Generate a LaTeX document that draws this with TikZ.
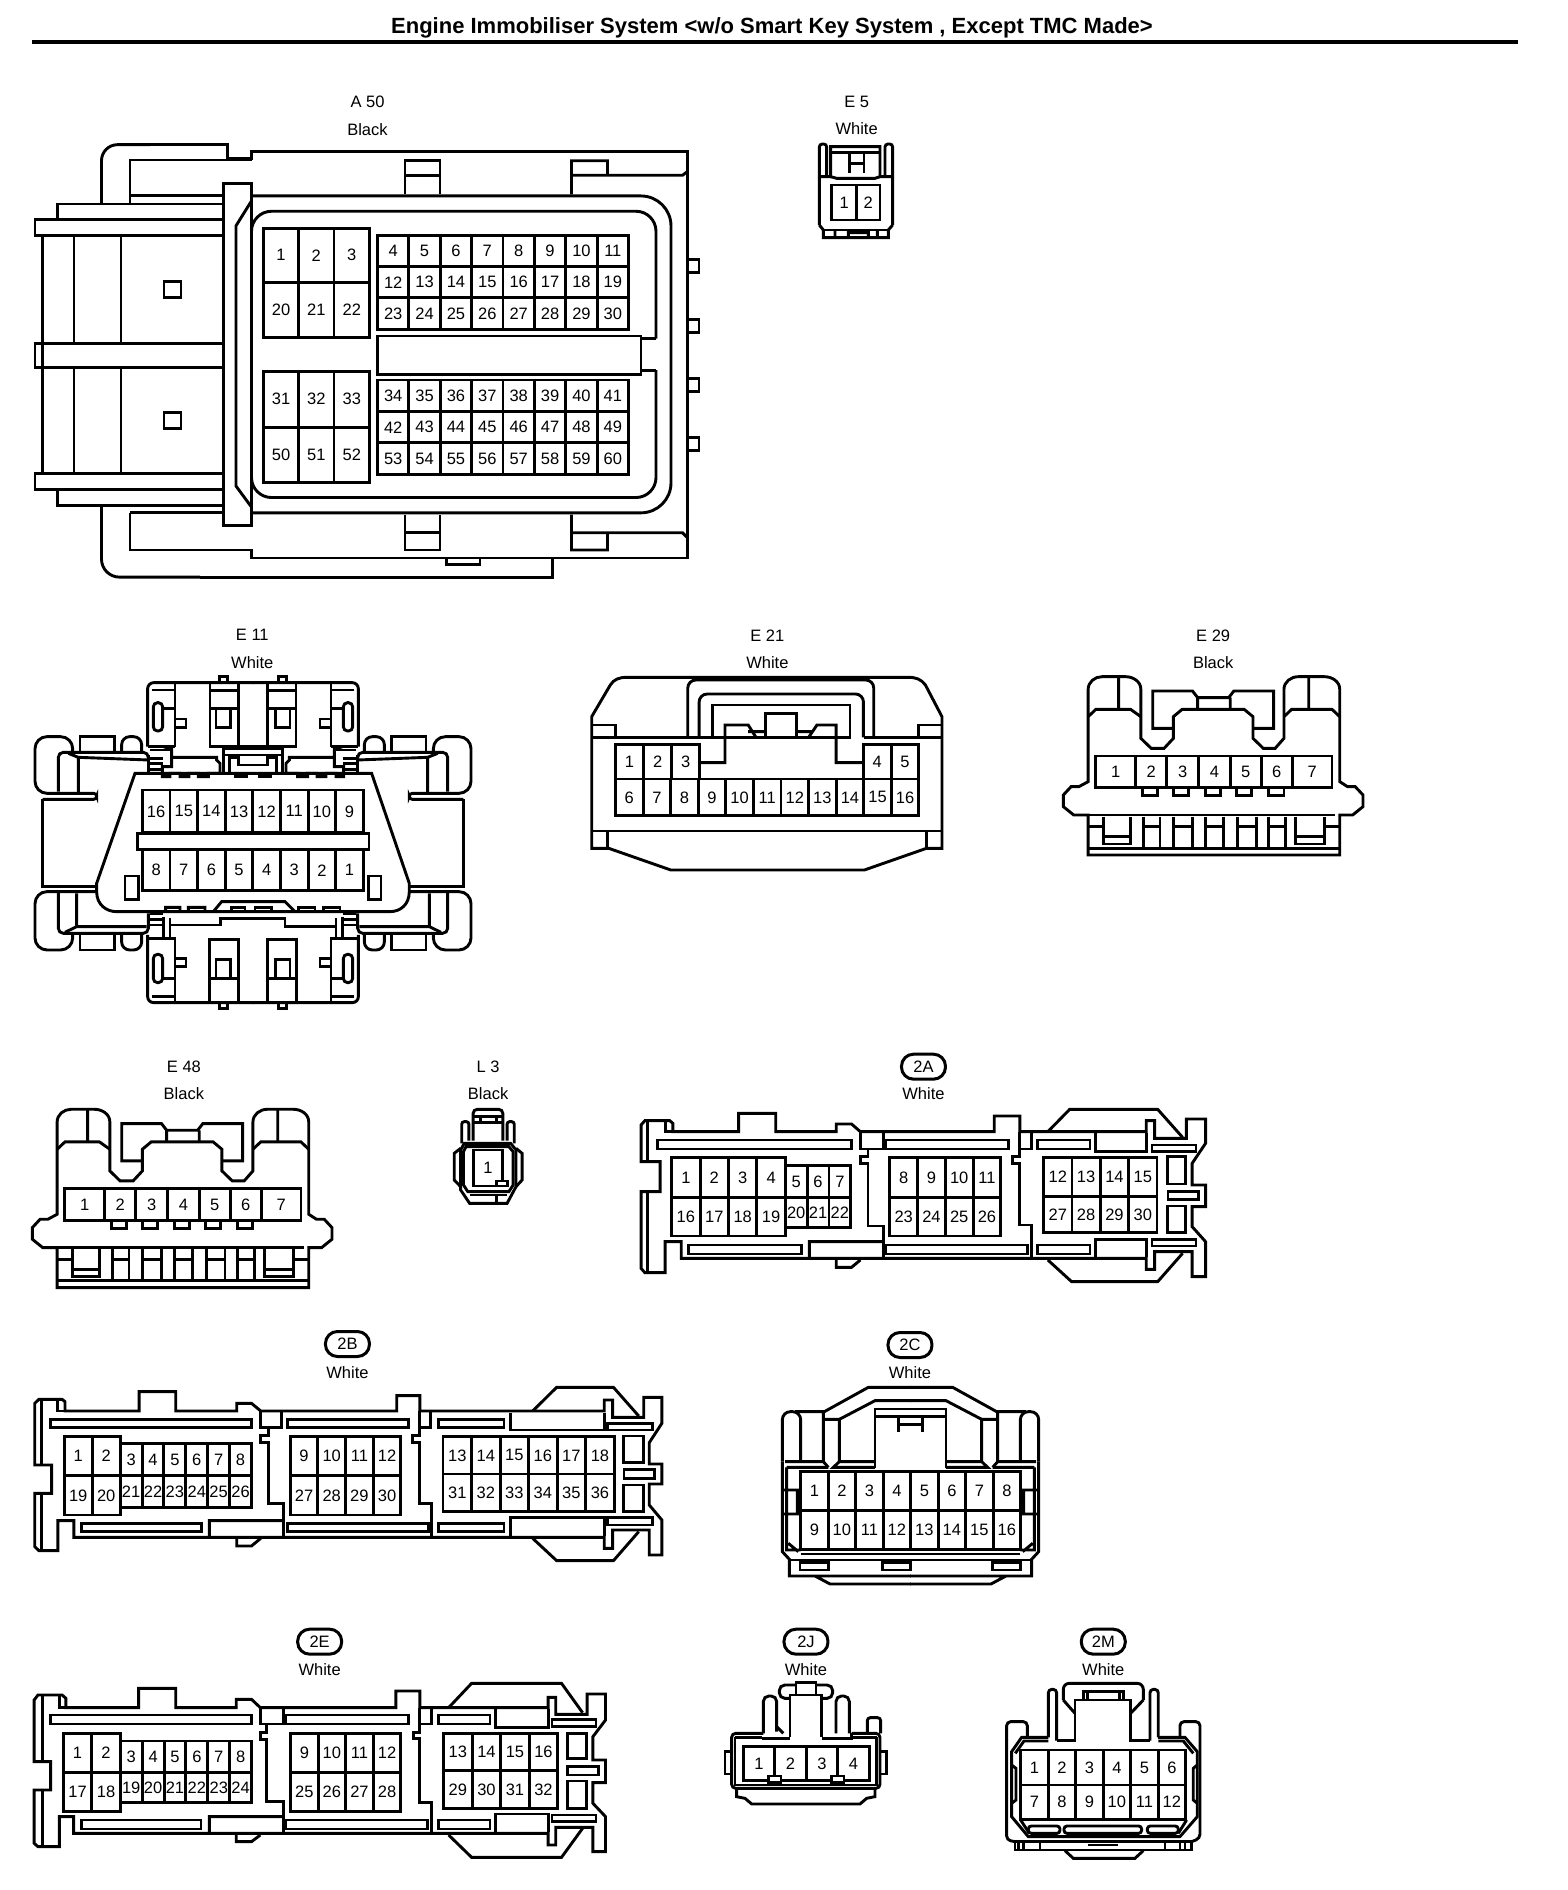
\documentclass[tikz,border=0pt]{standalone}
\usepackage{fontspec}
\setmainfont{Liberation Sans}
\tikzset{
  zo/.style n args={4}{shift={(#1pt,-#2pt)},x=#3pt,y=-#4pt},
  pin/.style={font=\fontsize{16.5}{18}\selectfont,inner sep=0pt},
  captxt/.style={font=\fontsize{16.5}{18}\selectfont,inner sep=0pt},
  tagoval/.style={draw,rounded corners=12pt,minimum width=44pt,minimum height=25pt,inner sep=0pt,line width=3pt,font=\fontsize{16.5}{18}\selectfont},
  titletext/.style={font=\fontsize{22}{24}\selectfont\bfseries,inner sep=0pt},
}
\newcommand{\PinRow}[6]{%
  \foreach \lbl [count=\ci from 0] in {#6} {
    \draw (#2+\ci*#3,#4) rectangle (#2+\ci*#3+#3,#5);
    \node[pin] (#1-\lbl) at (#2+\ci*#3+#3/2,{(#4+#5)/2}) {\lbl};
  }}
\newcommand{\PinRowX}[4]{%
  \foreach \xa/\xb/\lbl in {#4} {
    \draw (\xa,#2) rectangle (\xb,#3);
    \node[pin] (#1-\lbl) at ({(\xa+\xb)/2},{(#2+#3)/2}) {\lbl};
  }}
% half of E11, drawn in the coordinates of its zoom
\newcommand{\ElevenHalf}{%
  \draw[rounded corners=6pt] (443,380)--(443,188)--(761,188);
  \draw (455,210)--(525,210) (525,190)--(525,380) (525,265)--(490,265) (443,380)--(525,380) (450,390)--(515,390);
  \draw[rounded corners=4.2pt] (460,248) rectangle (488,333);
  \draw (525,297)--(558,297)--(558,322)--(525,322);
  \draw (630,190)--(630,380)--(761,380) (715,190)--(715,380) (630,212)--(715,212) (630,265)--(715,265) (648,265)--(648,322)--(692,322)--(692,265);
  \draw (658,185)--(658,170)--(683,170)--(683,185);
  % upper ear
  \draw[rounded corners=12pt] (218,395)--(218,350)--(105,350)--(105,520)--(225,520);
  \draw[rounded corners=3pt] (225,520)--(290,520)--(290,538)--(128,538);
  \draw (128,538)--(128,800)--(288,800);
  \draw (240,395)--(240,350)--(343,350)--(343,395);
  \draw[rounded corners=8pt] (365,395)--(365,350)--(425,350)--(425,395);
  \draw[rounded corners=5pt] (175,515)--(175,397)--(445,397)--(445,418);
  \draw (205,400)--(235,412)--(445,420) (235,412)--(235,518);
  % lower ear
  \draw[rounded corners=12pt] (288,815)--(105,815)--(105,990)--(218,990)--(218,940);
  \draw (240,940)--(240,990)--(343,990)--(343,940);
  \draw[rounded corners=8pt] (365,940)--(365,990)--(425,990)--(425,940);
  \draw[rounded corners=5pt] (175,818)--(175,940)--(445,940)--(445,880);
  \draw (195,937)--(230,920)--(440,920) (230,820)--(230,920);
  % body link, upper side
  \draw (445,405)--(445,460) (450,415)--(490,415) (450,430)--(490,430) (450,448)--(487,448);
  \draw (490,380)--(515,388)--(515,440)--(487,440)--(487,470)--(510,470)--(510,460)--(540,460)--(540,470)--(567,470)--(567,460)--(595,460)--(595,470)--(625,470)--(625,460)--(660,460)--(660,430)--(650,420)--(650,412)--(515,412);
  \draw (670,385)--(670,460) (670,385)--(761,385) (670,405)--(761,405);
  \draw (688,460)--(688,412)--(715,412)--(715,435)--(761,435);
  \draw (705,460)--(705,470)--(740,470)--(740,460)--(761,460);
  % lower block
  \draw[rounded corners=6pt] (443,945)--(443,1148)--(761,1148);
  \draw (445,955)--(525,955)--(525,1145) (525,1075)--(490,1075) (455,1130)--(525,1130);
  \draw[rounded corners=4.2pt] (460,1003) rectangle (488,1088);
  \draw (525,1015)--(558,1015)--(558,1040)--(525,1040);
  \draw (628,1145)--(628,958)--(715,958)--(715,1145) (628,1075)--(715,1075) (648,1075)--(648,1018)--(692,1018)--(692,1075);
  \draw (658,1148)--(658,1165)--(683,1165)--(683,1148);
  \draw (450,880)--(490,880) (450,898)--(490,898) (450,915)--(490,915) (510,895)--(510,955) (490,890)--(490,950);
}
% half of 2C
\newcommand{\TwoCHalf}{%
  \draw[rounded corners=8pt] (37,395)--(37,245)--(92,245)--(92,395);
  \draw (75,245)--(160,245)--(160,395)--(175,412) (45,395)--(160,395);
  \draw (160,268)--(208,268)--(208,395)--(190,412)--(315,412) (208,395)--(315,395);
  \draw (163,245)--(295,172)--(423,172) (208,268)--(315,212)--(423,212);
  \draw (315,415)--(315,237)--(423,237) (315,260)--(423,260) (385,260)--(385,305) (385,283)--(423,283);
  \draw (37,395)--(37,665)--(60,690) (50,412)--(175,412) (50,412)--(50,660)--(92,660) (37,480)--(82,480)--(82,552)--(37,552) (55,640)--(85,665);
  \draw (58,690)--(58,738)--(423,738) (135,738)--(180,762)--(423,762);
  \draw (58,690)--(423,690) (92,672)--(423,672);
}
% the seven-way connector shared by E29 and E48
\newcommand{\SevenWay}[1]{%
  \draw (1003,290)--(1003,208) to[out=90,in=180] (1030,170)--(1075,170) to[out=0,in=90] (1105,208)--(1105,355)--(1125,385)--(1150,385)--(1168,355)--(1168,290)--(1185,268)--(1305,268)--(1322,290)--(1322,355)--(1342,385)--(1365,385)--(1382,355)--(1382,208) to[out=90,in=180] (1410,170)--(1460,170) to[out=0,in=90] (1490,208)--(1490,485)--(1505,500)--(1520,500)--(1535,525)--(1535,560)--(1515,585)--(1490,585)--(1490,705)--(1003,705)--(1003,585)--(975,585)--(955,560)--(955,525)--(970,500)--(985,500)--(1003,485)--cycle;
  \draw (1003,290)--(1018,268)--(1085,268)--(1105,290) (1062,172)--(1062,268) (1382,290)--(1397,268)--(1475,268)--(1490,290) (1430,172)--(1430,268);
  \draw (1168,325)--(1128,325)--(1128,213)--(1205,213)--(1215,233)--(1275,233)--(1285,213)--(1362,213)--(1362,325)--(1322,325) (1215,233)--(1215,268) (1278,233)--(1278,268);
  \foreach \tx in {1108,1168,1230,1290,1352} { \draw (\tx,503)--(\tx,527)--(\tx+30,527)--(\tx+30,503); }
  \draw (975,585)--(1480,585) (1003,685)--(1490,685);
  \draw (1032,590)--(1032,672)--(1085,672)--(1085,590) (1032,650)--(1085,650) (1405,590)--(1405,672)--(1460,672)--(1460,590) (1405,650)--(1460,650);
  \foreach \ta/\tb in {1110/1142,1168/1205,1230/1265,1292/1328,1352/1385} { \draw (\ta,590)--(\ta,685) (\tb,590)--(\tb,685) (\ta,620)--(\tb,620); }
  \draw (1003,620)--(1032,620) (1460,620)--(1490,620);
  \PinRowX{#1}{408}{503}{1018/1095/1,1095/1155/2,1155/1217/3,1217/1278/4,1278/1338/5,1338/1398/6,1398/1475/7}
}
\begin{document}
\begin{tikzpicture}[x=1pt,y=-1pt,line width=2.9pt,line join=miter]
\path[use as bounding box,fill=white] (0,0) rectangle (1568,1890);
\node[titletext] (title) at (772,28) {Engine Immobiliser System <w/o Smart Key System , Except TMC Made>};
\draw[line width=4pt] (32,42)--(1518,42);

% ------------- A50
\begin{scope}[zo={0}{0}{0.5}{0.3827}]
\node[captxt] (a50) at (735,267) {A 50};
\node[captxt] (a50c) at (735,338) {Black};
\draw[rounded corners=16pt] (203,530)--(203,378)--(300,378);
\draw (300,378)--(455,378)--(455,413)--(503,413)--(503,396)--(1375,396)--(1375,1458)--(503,1458)--(503,1437)--(260,1437)--(260,1340);
\draw (503,418)--(260,418)--(260,530) (260,512)--(447,512);
\draw[rounded corners=18pt] (203,1322)--(203,1508)--(400,1508);
\draw (400,1508)--(1105,1508)--(1105,1458);
\draw (893,1458)--(893,1475)--(960,1475)--(960,1458);
\draw (810,508)--(810,420)--(880,420)--(880,508) (810,458)--(880,458);
\draw (1143,508)--(1143,420)--(1215,420)--(1215,458) (1143,458)--(1365,458)--(1375,448);
\draw (810,1345)--(810,1437)--(880,1437)--(880,1345) (810,1392)--(880,1392);
\draw (1143,1345)--(1143,1437)--(1215,1437)--(1215,1392) (1143,1392)--(1365,1392)--(1375,1405);
\draw (115,572)--(115,533)--(447,533) (447,573)--(70,573)--(70,615)--(447,615) (85,615)--(85,1238);
\draw (148,615)--(148,895) (242,615)--(242,895) (148,960)--(148,1238) (242,960)--(242,1238);
\draw (447,897)--(70,897)--(70,960)--(447,960);
\draw (447,1238)--(70,1238)--(70,1280)--(447,1280) (115,1280)--(115,1320)--(447,1320) (260,1340)--(447,1340);
\draw (328,735) rectangle (362,778) (328,1078) rectangle (362,1120);
\draw (447,480) rectangle (503,1373);
\draw[rounded corners=30pt] (503,512)--(1342,512)--(1342,1340)--(503,1340);
\draw (503,525)--(472,590)--(472,1270)--(503,1325);
\draw[rounded corners=20pt] (1312,885)--(1312,552)--(503,552)--(503,1300)--(1312,1300)--(1312,967);
\draw (1283,885)--(1312,885) (1283,967)--(1312,967);
\draw (755,878) rectangle (1282,978);
\foreach \ty in {678,835,988,1143} { \draw (1375,\ty)--(1398,\ty)--(1398,\ty+34)--(1375,\ty+34); }
\PinRowX{a}{596}{738}{527/597/1,597/668/2,668/739/3}
\PinRowX{a}{738}{882}{527/597/20,597/668/21,668/739/22}
\PinRowX{a}{970}{1116}{527/597/31,597/668/32,668/739/33}
\PinRowX{a}{1116}{1260}{527/597/50,597/668/51,668/739/52}
\PinRow{a}{755}{62.75}{616}{697}{4,5,6,7,8,9,10,11}
\PinRow{a}{755}{62.75}{697}{778}{12,13,14,15,16,17,18,19}
\PinRow{a}{755}{62.75}{778}{860}{23,24,25,26,27,28,29,30}
\PinRow{a}{755}{62.75}{993}{1076}{34,35,36,37,38,39,40,41}
\PinRow{a}{755}{62.75}{1076}{1157}{42,43,44,45,46,47,48,49}
\PinRow{a}{755}{62.75}{1157}{1240}{53,54,55,56,57,58,59,60}
\end{scope}

% ------------- E5
\begin{scope}[zo={800}{85}{0.3333}{0.3333}]
\node[captxt] (e5) at (170,50) {E 5};
\node[captxt] (e5c) at (170,130) {White};
\draw[rounded corners=3pt] (58,420)--(58,177)--(80,177)--(80,275);
\draw[rounded corners=3pt] (278,420)--(278,177)--(255,177)--(255,275);
\draw (58,420)--(70,435)--(70,458)--(265,458)--(265,435)--(278,420) (58,275)--(92,275)--(92,185)--(240,185)--(240,275)--(278,275);
\draw (95,203)--(240,203) (148,205)--(148,265) (192,205)--(192,265) (148,235)--(192,235) (70,435)--(265,435);
\draw (92,275)--(110,280)--(225,280)--(240,275) (105,435)--(105,458) (232,435)--(232,458) (145,458)--(145,443)--(205,443)--(205,458);
\PinRowX{e}{300}{405}{95/170/1,170/240/2}
\end{scope}

% ------------- E11
\begin{scope}[zo={0}{620}{0.3333}{0.3333}]
\node[captxt] (e11) at (757,45) {E 11};
\node[captxt] (e11c) at (757,128) {White};
\ElevenHalf
\draw (405,460)--(290,790)--(290,815) .. controls (290,855) and (320,875) .. (350,875)--(1170,875) .. controls (1200,875) and (1228,855) .. (1228,815)--(1228,790)--(1115,460)--cycle;
\draw (412,640) rectangle (1107,688);
\draw (375,768) rectangle (415,838) (1105,768) rectangle (1143,838);
\PinRow{e11}{427}{82.9}{510}{638}{16,15,14,13,12,11,10,9}
\PinRow{e11}{427}{82.9}{690}{812}{8,7,6,5,4,3,2,1}
\draw (510,915)--(662,915)--(662,895)--(855,895)--(855,920)--(1010,920);
\draw (497,875)--(497,862)--(540,862)--(540,875) (565,875)--(565,862)--(615,862)--(615,875) (640,875)--(665,845)--(855,845)--(885,875);
\draw (695,875)--(695,862)--(735,862)--(735,875) (765,875)--(765,862)--(815,862)--(815,875) (895,875)--(895,862)--(945,862)--(945,875) (970,875)--(970,862)--(1020,862)--(1020,875);
\end{scope}
\begin{scope}[zo={506}{620}{-0.3333}{0.3333}]
\ElevenHalf
\end{scope}

% ------------- E21 and E29
\begin{scope}[zo={570}{620}{0.5166}{0.3333}]
\node[captxt] (e21) at (382,47) {E 21};
\node[captxt] (e21c) at (382,128) {White};
\draw (42,685)--(42,290)--(78,195) .. controls (85,178) and (95,172) .. (110,172)--(655,172) .. controls (670,172) and (680,178) .. (688,195)--(720,290)--(720,685)--(690,685)--(570,750)--(195,750)--(75,685)--cycle;
\draw (42,315)--(88,315)--(88,352) (720,315)--(675,315)--(675,352) (42,352)--(275,352) (570,352)--(720,352);
\draw[rounded corners=8pt] (228,352)--(228,180)--(588,180)--(588,352);
\draw[rounded corners=8pt] (250,352)--(250,222)--(568,222)--(568,352);
\draw (275,255) rectangle (542,352);
\draw (378,352)--(378,280)--(438,280)--(438,352);
\draw (250,428)--(300,428)--(300,315)--(345,315)--(360,352) (345,335)--(378,335);
\draw (568,428)--(515,428)--(515,315)--(478,315)--(462,352) (438,335)--(470,335);
\PinRow{e21}{88}{54.4}{373}{477}{1,2,3}
\PinRow{e21}{568}{53.5}{373}{477}{4,5}
\PinRow{e21}{88}{53.4}{477}{587}{6,7,8,9,10,11,12,13,14,15,16}
\draw (42,633)--(720,633) (72,633)--(72,685) (690,633)--(690,685);
\node[captxt] (e29) at (1245,47) {E 29};
\node[captxt] (e29c) at (1245,128) {Black};
\SevenWay{e29}
\end{scope}

% ------------- E48
\begin{scope}[zo={-461}{1052.6}{0.5166}{0.3333}]
\SevenWay{e48}
\end{scope}
\begin{scope}[zo={0}{1050}{0.3571}{0.3333}]
\node[captxt] (e48) at (515,50) {E 48};
\node[captxt] (e48c) at (515,132) {Black};
% ------------- L3
\node[captxt] (l3) at (1367,50) {L 3};
\node[captxt] (l3c) at (1367,132) {Black};
\draw[rounded corners=4pt] (1325,272)--(1325,178)--(1408,178)--(1408,272);
\draw (1325,200)--(1408,200) (1345,200)--(1345,218) (1390,200)--(1390,218) (1325,218)--(1408,218);
\draw[rounded corners=2.5pt] (1313,272)--(1313,215)--(1293,215)--(1293,280);
\draw[rounded corners=2.5pt] (1420,272)--(1420,215)--(1440,215)--(1440,280);
\draw (1300,280)--(1430,280)--(1445,300)--(1445,410)--(1420,460)--(1315,460)--(1290,420)--(1290,300)--cycle;
\draw (1290,295)--(1272,310)--(1272,390)--(1290,410) (1445,295)--(1462,310)--(1462,390)--(1445,410);
\draw (1305,290)--(1425,290)--(1437,305)--(1437,405)--(1425,425)--(1310,425)--(1298,405)--(1298,305)--cycle;
\PinRowX{l3}{300}{408}{1325/1408/1}
\draw[fill=white] (1390,393) rectangle (1422,408);
\draw (1315,435)--(1420,435) (1390,435)--(1390,460);
\end{scope}

% ------------- 2A
\begin{scope}[zo={620}{1050}{0.3827}{0.3333}]
\node[tagoval] (t2a) at (793,50) {2A};
\node[captxt] (t2ac) at (793,132) {White};
\draw (55,335)--(55,225)--(65,212)--(130,212)--(138,220)--(138,245)--(310,245)--(310,190)--(407,190)--(407,245)--(565,245)--(565,222)--(605,222)--(628,245)--(978,245)--(978,198)--(1045,198)--(1045,245)--(1375,245)--(1375,212)--(1397,212)--(1397,265)--(1480,265)--(1480,207)--(1530,207)--(1530,280)--(1495,340)--(1495,405)--(1530,405)--(1530,470)--(1495,470)--(1495,530)--(1530,575)--(1530,680)--(1495,680)--(1495,605)--(1397,605)--(1397,658)--(1375,658)--(1375,625)--(160,625)--(160,575)--(118,575)--(118,668)--(65,668)--(55,655)--(55,425)--(105,425)--(105,335)--cycle;
\draw (1118,245)--(1175,178)--(1405,178)--(1470,262) (1118,630)--(1180,695)--(1405,695)--(1470,610);
\draw (72,215)--(72,335) (72,425)--(72,665) (118,215)--(118,245)--(138,245);
\draw (98,270) rectangle (605,297) (180,585) rectangle (475,612) (695,270) rectangle (1015,297) (695,585) rectangle (1065,612) (1090,270) rectangle (1228,297) (1090,585) rectangle (1228,612) (1390,285) rectangle (1505,305) (1390,568) rectangle (1505,588);
\draw (628,245)--(628,297)--(648,297)--(648,320)--(628,320)--(628,340)--(648,340)--(648,528)--(688,528)--(688,625) (688,245)--(688,297)--(648,297);
\draw (1045,245)--(1045,320)--(1025,320)--(1025,340)--(1045,340)--(1045,525)--(1075,525)--(1075,625) (1045,297)--(1075,297)--(1075,245);
\draw (495,625)--(495,575)--(688,575) (565,625)--(565,652)--(605,652)--(628,630);
\draw (1242,250)--(1242,305)--(1375,305)--(1375,250) (1242,620)--(1242,568)--(1375,568)--(1375,620);
\draw (1430,320) rectangle (1477,402) (1432,425) rectangle (1512,448) (1430,468) rectangle (1477,548);
\PinRow{t2a}{135}{74.25}{323}{442}{1,2,3,4}
\PinRow{t2a}{135}{74.25}{442}{558}{16,17,18,19}
\PinRow{t2a}{432}{57}{347}{442}{5,6,7}
\PinRow{t2a}{432}{57}{442}{533}{20,21,22}
\PinRow{t2a}{705}{72.5}{323}{442}{8,9,10,11}
\PinRow{t2a}{705}{72.5}{442}{558}{23,24,25,26}
\PinRow{t2a}{1107}{74}{323}{440}{12,13,14,15}
\PinRow{t2a}{1107}{74}{440}{548}{27,28,29,30}
\end{scope}

% ------------- 2B
\begin{scope}[zo={20}{1330}{0.4209}{0.3333}]
\node[tagoval] (t2b) at (778,42) {2B};
\node[captxt] (t2bc) at (778,128) {White};
\draw (35,405)--(35,220)--(45,208)--(100,208)--(107,215)--(107,243)--(283,243)--(283,185)--(370,185)--(370,243)--(515,243)--(515,220)--(550,220)--(572,243)--(895,243)--(895,197)--(950,197)--(950,243)--(1388,243)--(1388,210)--(1408,210)--(1408,262)--(1482,262)--(1482,202)--(1525,202)--(1525,280)--(1495,338)--(1495,402)--(1525,402)--(1525,462)--(1495,462)--(1495,525)--(1525,570)--(1525,675)--(1495,675)--(1495,600)--(1408,600)--(1408,655)--(1388,655)--(1388,622)--(128,622)--(128,572)--(90,572)--(90,662)--(45,662)--(35,650)--(35,490)--(75,490)--(75,405)--cycle;
\draw (1218,243)--(1275,172)--(1410,172)--(1470,258) (1218,625)--(1275,692)--(1410,692)--(1470,605);
\draw (52,212)--(52,405) (52,490)--(52,660) (90,212)--(90,243)--(107,243);
\draw (73,268) rectangle (550,293) (147,580) rectangle (432,605) (635,268) rectangle (923,293) (635,580) rectangle (970,605) (995,268) rectangle (1150,293) (995,580) rectangle (1150,605) (1395,280) rectangle (1502,300) (1395,562) rectangle (1502,585);
\draw (572,243)--(572,293)--(590,293)--(590,317)--(572,317)--(572,337)--(590,337)--(590,520)--(625,520)--(625,622) (622,243)--(622,293)--(590,293);
\draw (950,243)--(950,317)--(933,317)--(933,337)--(950,337)--(950,520)--(978,520)--(978,622) (950,293)--(975,293)--(975,243);
\draw (450,622)--(450,572)--(625,572) (515,622)--(515,648)--(550,648)--(572,625);
\draw (1165,248)--(1165,300)--(1388,300)--(1388,248) (1165,618)--(1165,562)--(1388,562)--(1388,618);
\draw (1433,318) rectangle (1482,398) (1435,418) rectangle (1508,445) (1433,465) rectangle (1482,545);
\PinRow{t2b}{105}{66.5}{320}{437}{1,2}
\PinRow{t2b}{105}{66.5}{437}{555}{19,20}
\PinRow{t2b}{238}{52}{340}{437}{3,4,5,6,7,8}
\PinRow{t2b}{238}{52}{437}{532}{21,22,23,24,25,26}
\PinRow{t2b}{642}{65.75}{320}{437}{9,10,11,12}
\PinRow{t2b}{642}{65.75}{437}{555}{27,28,29,30}
\PinRow{t2b}{1005}{67.8}{320}{432}{13,14,15,16,17,18}
\PinRow{t2b}{1005}{67.8}{432}{545}{31,32,33,34,35,36}
\end{scope}

% ------------- 2C
\begin{scope}[zo={770}{1330}{0.3333}{0.3333}]
\node[tagoval] (t2c) at (420,45) {2C};
\node[captxt] (t2cc) at (420,127) {White};
\TwoCHalf
\PinRow{t2c}{92}{82.5}{425}{542}{1,2,3,4,5,6,7,8}
\PinRow{t2c}{92}{82.5}{542}{658}{9,10,11,12,13,14,15,16}
\draw (90,698) rectangle (175,720) (338,698) rectangle (422,720) (668,698) rectangle (752,720);
\end{scope}
\begin{scope}[zo={1051}{1330}{-0.3333}{0.3333}]
\TwoCHalf
\end{scope}

% ------------- 2E
\begin{scope}[zo={20}{1620}{0.3827}{0.3333}]
\node[tagoval] (t2e) at (783,65) {2E};
\node[captxt] (t2ec) at (783,148) {White};
\draw (37,425)--(37,240)--(47,225)--(110,225)--(120,235)--(120,263)--(310,263)--(310,205)--(407,205)--(407,263)--(565,263)--(565,238)--(605,238)--(628,263)--(982,263)--(982,213)--(1045,213)--(1045,263)--(1380,263)--(1380,232)--(1400,232)--(1400,283)--(1482,283)--(1482,222)--(1530,222)--(1530,300)--(1497,350)--(1497,420)--(1530,420)--(1530,488)--(1497,488)--(1497,550)--(1530,590)--(1530,695)--(1497,695)--(1497,622)--(1400,622)--(1400,675)--(1380,675)--(1380,640)--(140,640)--(140,590)--(103,590)--(103,680)--(47,680)--(37,670)--(37,510)--(80,510)--(80,425)--cycle;
\draw (1120,263)--(1180,190)--(1415,190)--(1470,278) (1120,645)--(1180,712)--(1415,712)--(1470,625);
\draw (58,228)--(58,425) (58,510)--(58,678) (103,228)--(103,263)--(120,263);
\draw (80,285) rectangle (605,312) (160,600) rectangle (473,627) (695,285) rectangle (1015,312) (695,600) rectangle (1065,627) (1093,285) rectangle (1228,312) (1093,600) rectangle (1228,627) (1390,298) rectangle (1505,320) (1390,585) rectangle (1505,605);
\draw (628,263)--(628,312)--(645,312)--(645,338)--(628,338)--(628,358)--(645,358)--(645,545)--(688,545)--(688,640) (688,263)--(688,312)--(645,312);
\draw (1045,263)--(1045,338)--(1028,338)--(1028,355)--(1045,355)--(1045,548)--(1075,548)--(1075,640) (1045,312)--(1075,312)--(1075,263);
\draw (495,640)--(495,590)--(688,590) (565,640)--(565,665)--(605,665)--(628,645);
\draw (1242,268)--(1242,322)--(1380,322)--(1380,268) (1242,635)--(1242,582)--(1380,582)--(1380,635);
\draw (1430,340) rectangle (1480,415) (1430,440) rectangle (1512,465) (1430,483) rectangle (1480,565);
\PinRow{t2e}{113}{74.5}{340}{458}{1,2}
\PinRow{t2e}{113}{74.5}{458}{575}{17,18}
\PinRow{t2e}{262}{57.2}{363}{458}{3,4,5,6,7,8}
\PinRow{t2e}{262}{57.2}{458}{548}{19,20,21,22,23,24}
\PinRow{t2e}{707}{72}{340}{458}{9,10,11,12}
\PinRow{t2e}{707}{72}{458}{575}{25,26,27,28}
\PinRow{t2e}{1107}{74.5}{340}{452}{13,14,15,16}
\PinRow{t2e}{1107}{74.5}{452}{565}{29,30,31,32}
\end{scope}

% ------------- 2J and 2M
\begin{scope}[zo={710}{1620}{0.3333}{0.3333}]
\node[tagoval] (t2j) at (288,65) {2J};
\node[captxt] (t2jc) at (288,148) {White};
\node[tagoval] (t2m) at (1180,65) {2M};
\node[captxt] (t2mc) at (1180,148) {White};
% 2J
\draw[rounded corners=4pt] (160,340)--(65,340)--(65,505)--(510,505)--(510,340)--(425,340);
\draw (75,352)--(155,352) (430,352)--(500,352) (75,352)--(75,495)--(500,495)--(500,352);
\draw (80,505)--(80,530)--(105,535)--(125,552)--(450,552)--(470,535)--(495,530)--(495,505);
\draw (65,395)--(45,395)--(45,462)--(65,462) (510,395)--(530,395)--(530,462)--(510,462);
\draw[rounded corners=5.5pt] (240,235)--(208,235)--(208,195)--(258,195);
\draw[rounded corners=5.5pt] (335,235)--(368,235)--(368,195)--(318,195);
\draw (258,222)--(258,188)--(318,188)--(318,222);
\draw (240,352)--(240,225)--(335,225)--(335,352) (155,355)--(240,355) (335,355)--(425,355)--(425,340);
\draw[rounded corners=5.5pt] (160,340)--(160,228)--(200,228)--(200,335);
\draw (200,320)--(220,340);
\draw[rounded corners=5.5pt] (378,340)--(378,228)--(418,228)--(418,340);
\draw[rounded corners=3pt] (472,340)--(472,293)--(512,293)--(512,340);
\PinRow{t2j}{100}{94.5}{380}{482}{1,2,3,4}
\draw[fill=white] (175,468) rectangle (213,488) (365,468) rectangle (402,488);
% 2M
\draw[rounded corners=4pt] (915,665)--(890,660)--(890,305)--(952,305)--(952,352);
\draw[rounded corners=4pt] (1445,665)--(1470,655)--(1470,305)--(1410,305)--(1410,352);
\draw (952,352)--(1015,352) (1345,352)--(1410,352);
\draw[rounded corners=3.5pt] (1015,352)--(1015,208)--(1040,208)--(1040,362);
\draw (1040,362)--(1095,362)--(1095,240)--(1262,240)--(1262,362)--(1320,362);
\draw[rounded corners=3.5pt] (1320,362)--(1320,208)--(1345,208)--(1345,352);
\draw[rounded corners=6pt] (1060,240)--(1060,190)--(1300,190)--(1300,240);
\draw (1095,280)--(1060,240) (1262,280)--(1300,240);
\draw (1120,240)--(1120,215)--(1240,215)--(1240,240) (1133,215)--(1133,240) (1228,215)--(1228,240);
\draw (1015,352)--(935,352)--(905,395)--(905,590)--(955,650)--(1410,650)--(1462,590)--(1462,395)--(1425,352)--(1345,352);
\draw (1015,363)--(942,363)--(916,400) (1345,363)--(1420,363)--(1450,400);
\draw (905,435)--(918,445)--(918,540)--(905,550) (1462,435)--(1450,445)--(1450,540)--(1462,550);
\draw[rounded corners=3pt] (955,618) rectangle (1050,640) (1062,618) rectangle (1295,640) (1312,618) rectangle (1405,640);
\draw (932,600)--(958,640) (1430,600)--(1405,640);
\draw (915,665)--(1445,665) (915,665)--(915,690)--(1445,690)--(1445,665);
\draw (925,665)--(925,690) (940,665)--(940,690) (990,665)--(990,690) (1365,665)--(1365,690) (1410,665)--(1410,690) (1425,665)--(1425,690) (1135,675)--(1225,675);
\draw (1065,692)--(1090,715)--(1275,715)--(1300,692);
\PinRow{t2m}{932}{82.5}{390}{495}{1,2,3,4,5,6}
\PinRow{t2m}{932}{82.5}{495}{598}{7,8,9,10,11,12}
\end{scope}
\end{tikzpicture}
\end{document}
